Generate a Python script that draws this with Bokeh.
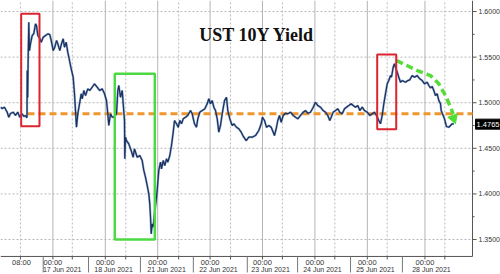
from bokeh.plotting import figure
from bokeh.models import Range1d, Label, BoxAnnotation
from bokeh.core.properties import value
from bokeh.embed import file_html
from bokeh.resources import INLINE

# ---------------- data (x = trading-day index from 16 Jun 00:00, y = yield %) ----------------
day_x = [0.000, 0.032, 0.076, 0.128, 0.158, 0.191, 0.242, 0.286, 0.330, 0.368, 0.414, 0.445, 0.477, 0.496,
         0.506, 0.510, 0.519, 0.527, 0.540, 0.553, 0.573, 0.605, 0.636, 0.668, 0.687, 0.712, 0.750, 0.777,
         0.815, 0.859, 0.903, 0.941, 0.968, 1.006, 1.036, 1.069, 1.094, 1.132, 1.164, 1.197, 1.221, 1.254,
         1.284, 1.317, 1.349, 1.387, 1.412, 1.431, 1.450, 1.475, 1.508, 1.540, 1.559, 1.590, 1.622, 1.666,
         1.704, 1.750, 1.794, 1.845, 1.895, 1.941, 1.985, 2.023, 2.048, 2.067, 2.099, 2.132, 2.162, 2.214,
         2.239, 2.258, 2.290, 2.323, 2.342, 2.366, 2.372, 2.385, 2.405, 2.448, 2.494, 2.532, 2.557, 2.609,
         2.658, 2.704, 2.735, 2.767, 2.800, 2.830, 2.849, 2.863, 2.876, 2.895, 2.914, 2.939, 2.971, 2.990,
         3.021, 3.053, 3.073, 3.105, 3.135, 3.168, 3.193, 3.231, 3.263, 3.296, 3.321, 3.359, 3.391, 3.422,
         3.454, 3.487, 3.531, 3.574, 3.626, 3.658, 3.702, 3.740, 3.765, 3.803, 3.849, 3.899, 3.945, 3.975,
         4.008, 4.040, 4.071, 4.103, 4.136, 4.166, 4.198, 4.231, 4.275, 4.313, 4.338, 4.376, 4.422, 4.452,
         4.504, 4.548, 4.594, 4.643, 4.689, 4.739, 4.803, 4.866, 4.929, 4.975, 5.000, 5.038, 5.076, 5.120,
         5.166, 5.204, 5.229, 5.267, 5.292, 5.324, 5.357, 5.395, 5.439, 5.483, 5.534, 5.586, 5.630, 5.674,
         5.725, 5.777, 5.821, 5.864, 5.916, 5.968, 6.011, 6.055, 6.107, 6.158, 6.202, 6.246, 6.284, 6.311,
         6.349, 6.393, 6.437, 6.475, 6.521, 6.565, 6.603, 6.647, 6.693, 6.731, 6.775, 6.819, 6.857, 6.903,
         6.947, 6.998, 7.048, 7.094, 7.137, 7.176, 7.219, 7.252, 7.284, 7.315, 7.347, 7.380, 7.410, 7.443,
         7.462, 7.494, 7.519, 7.538, 7.571, 7.601, 7.634, 7.666, 7.729, 7.773, 7.811, 7.857, 7.901, 7.952,
         8.002, 8.048, 8.092, 8.143, 8.174, 8.206, 8.239, 8.269, 8.302, 8.334, 8.365, 8.397, 8.410, 8.448,
         8.473, 8.511, 8.555, 8.588, 8.620, 8.651]
yield_pct = [1.4951, 1.4936, 1.4951, 1.4896, 1.4841, 1.4882, 1.4896, 1.4860, 1.4896, 1.4841, 1.4878, 1.4849,
             1.4860, 1.4841, 1.4838, 1.5353, 1.5057, 1.5463, 1.5883, 1.5572, 1.5649, 1.5737, 1.5759, 1.5865,
             1.5846, 1.5737, 1.5704, 1.5663, 1.5718, 1.5737, 1.5755, 1.5748, 1.5682, 1.5572, 1.5609, 1.5682,
             1.5646, 1.5572, 1.5646, 1.5701, 1.5609, 1.5663, 1.5554, 1.5463, 1.5372, 1.5280, 1.5098, 1.4914,
             1.4731, 1.4878, 1.4988, 1.5098, 1.5043, 1.5134, 1.5079, 1.5152, 1.5134, 1.5170, 1.5207, 1.5170,
             1.5134, 1.5152, 1.5098, 1.5024, 1.4878, 1.4750, 1.4878, 1.4841, 1.4841, 1.4878, 1.5134, 1.5189,
             1.5060, 1.5134, 1.4988, 1.4805, 1.4385, 1.4622, 1.4585, 1.4549, 1.4476, 1.4402, 1.4494, 1.4402,
             1.4421, 1.4366, 1.4257, 1.4183, 1.4092, 1.4001, 1.3891, 1.3744, 1.3562, 1.3672, 1.3635, 1.3782,
             1.3928, 1.4037, 1.4257, 1.4348, 1.4275, 1.4366, 1.4311, 1.4385, 1.4348, 1.4421, 1.4531, 1.4677,
             1.4805, 1.4769, 1.4731, 1.4805, 1.4769, 1.4823, 1.4841, 1.4860, 1.4914, 1.4878, 1.4769, 1.4731,
             1.4823, 1.4896, 1.4914, 1.4933, 1.4988, 1.5043, 1.4988, 1.5024, 1.4951, 1.4914, 1.4823, 1.4677,
             1.4750, 1.4878, 1.5024, 1.5060, 1.4914, 1.4823, 1.4750, 1.4769, 1.4731, 1.4714, 1.4677, 1.4622,
             1.4585, 1.4622, 1.4622, 1.4640, 1.4695, 1.4769, 1.4841, 1.4805, 1.4731, 1.4750, 1.4731, 1.4677,
             1.4640, 1.4731, 1.4805, 1.4860, 1.4786, 1.4860, 1.4885, 1.4878, 1.4896, 1.4860, 1.4841, 1.4823,
             1.4860, 1.4896, 1.4914, 1.4885, 1.4896, 1.4951, 1.5005, 1.4969, 1.4951, 1.4914, 1.4896, 1.4860,
             1.4805, 1.4841, 1.4896, 1.4914, 1.4933, 1.4896, 1.4878, 1.4933, 1.4951, 1.4969, 1.4988, 1.4969,
             1.4951, 1.4969, 1.4914, 1.4951, 1.4914, 1.4896, 1.4860, 1.4878, 1.4896, 1.4860, 1.4805, 1.4769,
             1.4860, 1.4988, 1.5098, 1.5207, 1.5243, 1.5298, 1.5280, 1.5389, 1.5427, 1.5389, 1.5334, 1.5280,
             1.5225, 1.5243, 1.5225, 1.5243, 1.5251, 1.5298, 1.5280, 1.5298, 1.5262, 1.5243, 1.5207, 1.5225,
             1.5189, 1.5163, 1.5178, 1.5134, 1.5079, 1.5098, 1.5024, 1.4988, 1.4914, 1.4860, 1.4823, 1.4739,
             1.4731, 1.4750, 1.4769, 1.4765]
last_value = 1.4765
title_text = "UST 10Y Yield"

y_ticks = [1.35, 1.40, 1.45, 1.50, 1.55, 1.60]
y_tick_labels = ["1.3500", "1.4000", "1.4500", "1.5000", "1.5500", "1.6000"]
y_minor = [1.375, 1.425, 1.475, 1.525, 1.575]

time_ticks = [0.40, 1, 2, 3, 4, 5, 6, 7, 8.1]
time_labels = ["08:00", "00:00", "00:00", "00:00", "00:00", "00:00", "00:00", "00:00", "00:00"]
date_pos = [1.178, 2.157, 3.168, 4.160, 5.153, 6.145, 7.156, 8.225]
date_labels = ["17 Jun 2021", "18 Jun 2021", "21 Jun 2021", "22 Jun 2021",
               "23 Jun 2021", "24 Jun 2021", "25 Jun 2021", "28 Jun 2021"]
separators = [0.815, 1.68, 2.67, 3.68, 4.71, 5.67, 6.68, 7.67]
midnights = [1, 2, 3, 4, 5, 6, 7, 8.1]
mornings = [0.38, 1.37, 2.39, 3.40, 4.39, 5.38, 6.38, 7.38, 8.48]

# annotations (data units)
red_boxes = [(0.395, 0.744, 1.4742, 1.5975), (7.189, 7.552, 1.4709, 1.5528)]
green_box = (2.181, 2.945, 1.3500, 1.5317)
ref_level = 1.4878
ref_start = 0.515
green_curve_x = [7.557, 7.952, 8.206, 8.365, 8.492, 8.575, 8.640]
green_curve_y = [1.5463, 1.5353, 1.5298, 1.5207, 1.5079, 1.4969, 1.4875]
arrow_tip = (8.645, 1.4830)

# ---------------- layout / scales ----------------
X_AXIS = 9.008      # right value axis position (end of plotting area)
Y_AXIS = 1.3314     # bottom time axis position (start of plotting area)
X0, X1 = 0.0, 9.542
Y0, Y1 = 1.31162, 1.6121
PX = 1 / 52.4       # one pixel in x data units (tick lengths / offsets)
PY = 1 / 912.0      # one pixel in y data units

AXIS_COL = "#555555"
TXT_COL = "#333333"
FONT = value("Liberation Sans")

p = figure(width=500, height=274, output_backend="svg", toolbar_location=None,
           x_range=Range1d(X0, X1), y_range=Range1d(Y0, Y1),
           x_axis_location=None, y_axis_location=None,
           min_border=0, min_border_left=0, min_border_right=0,
           min_border_top=0, min_border_bottom=0)
p.outline_line_color = None
p.background_fill_color = "white"
p.border_fill_color = "white"
p.xgrid.visible = False
p.ygrid.visible = False

# ---- grid lines ----
p.segment(x0=[X0] * len(y_ticks), x1=[X_AXIS] * len(y_ticks), y0=y_ticks, y1=y_ticks,
          line_color="#b8b8b8", line_width=1, line_dash="2 2")
p.segment(x0=midnights, x1=midnights, y0=[Y_AXIS] * len(midnights), y1=[Y1] * len(midnights),
          line_color="#b5b5b5", line_width=1)
p.segment(x0=mornings, x1=mornings, y0=[Y_AXIS] * len(mornings), y1=[Y1] * len(mornings),
          line_color="#bbbbbb", line_width=1, line_dash="2 2")

# ---- axes (drawn through the data scales) ----
p.segment(x0=[X0], x1=[X_AXIS], y0=[Y_AXIS], y1=[Y_AXIS], line_color=AXIS_COL, line_width=1)
p.segment(x0=[X_AXIS], x1=[X_AXIS], y0=[Y_AXIS], y1=[Y1], line_color=AXIS_COL, line_width=1)
# bottom: long separators + short ticks
p.segment(x0=separators, x1=separators, y0=[Y_AXIS] * len(separators),
          y1=[Y_AXIS - 16 * PY] * len(separators), line_color="#777777", line_width=1)
small = midnights + mornings
p.segment(x0=small, x1=small, y0=[Y_AXIS] * len(small), y1=[Y_AXIS - 3 * PY] * len(small),
          line_color=AXIS_COL, line_width=1)
# right: major/minor ticks
p.segment(x0=[X_AXIS] * len(y_ticks), x1=[X_AXIS + 4 * PX] * len(y_ticks), y0=y_ticks, y1=y_ticks,
          line_color=AXIS_COL, line_width=1)
p.segment(x0=[X_AXIS] * len(y_minor), x1=[X_AXIS + 2 * PX] * len(y_minor), y0=y_minor, y1=y_minor,
          line_color=AXIS_COL, line_width=1)
p.text(x=[X_AXIS + 6 * PX] * len(y_ticks), y=y_ticks, text=y_tick_labels, text_align="left",
       text_baseline="middle", text_font=FONT, text_font_size=value("7px"), text_color=TXT_COL)
p.text(x=time_ticks, y=[Y_AXIS - 6.5 * PY] * len(time_ticks), text=time_labels, text_align="center",
       text_baseline="middle", text_font=FONT, text_font_size=value("7.5px"), text_color=TXT_COL)
p.text(x=date_pos, y=[Y_AXIS - 13.5 * PY] * len(date_pos), text=date_labels, text_align="center",
       text_baseline="middle", text_font=FONT, text_font_size=value("7px"), text_color=TXT_COL)

# ---- reference level ----
p.line([ref_start, X_AXIS], [ref_level, ref_level], line_color="#f0962e", line_width=3,
       line_dash="7 4")

# ---- boxes ----
for (x0, x1, y0, y1) in red_boxes:
    p.add_layout(BoxAnnotation(left=x0, right=x1, bottom=y0, top=y1, fill_alpha=0,
                               line_color="#dc2430", line_alpha=1.0, line_width=2))
p.add_layout(BoxAnnotation(left=green_box[0], right=green_box[1], bottom=green_box[2],
                           top=green_box[3], fill_alpha=0, line_color="#4cd944",
                           line_alpha=1.0, line_width=2.5))

# ---- yield line ----
p.line(day_x, yield_pct, line_color="#4a78b8", line_width=2.2, line_alpha=0.6)
p.line(day_x, yield_pct, line_color="#1b2f5a", line_width=1.2)

# ---- green dashed trend arrow ----
p.line(green_curve_x, green_curve_y, line_color="#52dc34", line_width=3.5, line_dash="7 4")
p.scatter([arrow_tip[0]], [arrow_tip[1]], marker="inverted_triangle", size=10,
          fill_color="#52dc34", line_color="#52dc34", angle=0.35)

# ---- title ----
p.add_layout(Label(x=4.895, y=1.5742, text=title_text, text_align="center",
                   text_baseline="alphabetic", text_font="Liberation Serif",
                   text_font_style="bold", text_font_size="18px", text_color="#111111"))

# ---- last value tag ----
tag_x = X_AXIS + 15.5 * PX
p.rect(x=[tag_x], y=[last_value], width=25 * PX, height=10 * PY, fill_color="black",
       line_color="black")
p.text(x=[tag_x], y=[last_value], text=[f"{last_value:.4f}"], text_align="center",
       text_baseline="middle", text_font=FONT, text_font_size=value("7.5px"), text_color="white")

open("out.html", "w").write(file_html(p, INLINE))
